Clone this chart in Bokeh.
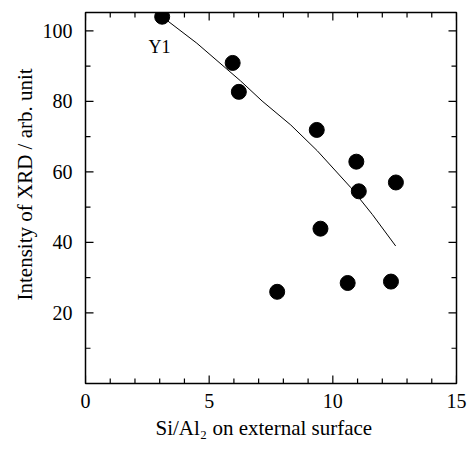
from bokeh.plotting import figure
from bokeh.models import FixedTicker, Range1d, Label, Title
from bokeh.embed import file_html
from bokeh.resources import INLINE

# Data
si_al2 = [3.1, 5.95, 6.2, 9.35, 10.95, 11.05, 12.55, 9.5, 7.75, 10.6, 12.35]
intensity = [104, 90.9, 82.7, 71.9, 62.9, 54.5, 57.0, 43.9, 26.0, 28.5, 28.9]
fit_x = [3.1, 4.5, 6.27, 7.14, 8.3, 9.37, 10.72, 11.6, 12.54]
fit_y = [104, 96.5, 85.8, 80.1, 73.3, 66.0, 55.6, 47.9, 39.0]
x_major = [0, 5, 10, 15]
x_minor = list(range(0, 16))
y_major = [20, 40, 60, 80, 100]
y_minor = [0, 10, 30, 50, 70, 90]

FONT = "Liberation Serif"
X0, X1 = 0, 15
Y0, Y1 = 0, 105.2

p = figure(width=468, height=449, output_backend="svg", toolbar_location=None,
           x_range=Range1d(X0, X1), y_range=Range1d(Y0, Y1),
           min_border_left=85, min_border_right=12, min_border_top=12, min_border_bottom=66)
p.grid.visible = False
p.outline_line_color = "black"
p.outline_line_width = 1.5
p.background_fill_color = "white"
p.border_fill_color = "white"

for ax, ticks in ((p.xaxis[0], x_major), (p.yaxis[0], y_major)):
    ax.ticker = FixedTicker(ticks=ticks, minor_ticks=[])
    ax.major_tick_in = 0
    ax.major_tick_out = 0
    ax.minor_tick_in = 0
    ax.minor_tick_out = 0
    ax.axis_line_color = None
    ax.major_tick_line_color = None
    ax.minor_tick_line_color = None
    ax.major_label_text_font = FONT
    ax.major_label_text_font_size = "20px"
    ax.major_label_text_color = "black"
    ax.axis_label = None

p.xaxis[0].major_label_standoff = 10
p.yaxis[0].major_label_standoff = 13

p.add_layout(Title(text="Intensity of XRD / arb. unit", align="left", offset=83,
                   text_font=FONT, text_font_size="21px", text_font_style="normal",
                   text_color="black", standoff=5), "left")
p.add_layout(Title(text="Si/Al\u2082 on external surface", align="left", offset=70,
                   text_font=FONT, text_font_size="21px", text_font_style="normal",
                   text_color="black", standoff=7), "below")

# tick marks drawn inward on all four sides (lengths in pixels converted to data units)
fw, fh = 468 - 85 - 12, 449 - 12 - 66
ux = (X1 - X0) / fw
uy = (Y1 - Y0) / fh
MAJ, MIN = 8, 5
for ticks, L in ((x_major, MAJ), ([t for t in x_minor if t not in x_major], MIN)):
    p.segment(x0=ticks, y0=[Y0] * len(ticks), x1=ticks, y1=[Y0 + L * uy] * len(ticks),
              line_color="black", line_width=1.2)
    p.segment(x0=ticks, y0=[Y1] * len(ticks), x1=ticks, y1=[Y1 - L * uy] * len(ticks),
              line_color="black", line_width=1.2)
for ticks, L in ((y_major, MAJ), (y_minor, MIN)):
    p.segment(x0=[X0] * len(ticks), y0=ticks, x1=[X0 + L * ux] * len(ticks), y1=ticks,
              line_color="black", line_width=1.2)
    p.segment(x0=[X1] * len(ticks), y0=ticks, x1=[X1 - L * ux] * len(ticks), y1=ticks,
              line_color="black", line_width=1.2)

p.line(fit_x, fit_y, line_color="black", line_width=1)
p.scatter(si_al2, intensity, size=15, fill_color="black", line_color="black")

p.add_layout(Label(x=2.99, y=95.3, text="Y1", text_font=FONT, text_font_size="18px",
                   text_align="center", text_baseline="alphabetic", text_color="black"))

open("out.html", "w").write(file_html(p, INLINE))
